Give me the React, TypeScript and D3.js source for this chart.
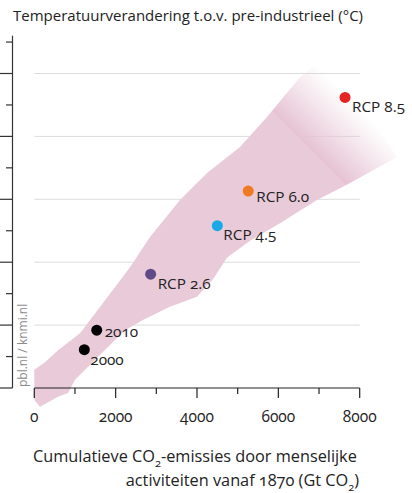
import React from "react";
import * as d3 from "d3";

const pointLabels = ["2000", "2010", "RCP 2.6", "RCP 4.5", "RCP 6.0", "RCP 8.5"];
const emissions = [1230, 1535, 2860, 4500, 5260, 7640];
const temps = [0.61, 0.92, 1.81, 2.58, 3.13, 4.62];
const pointColors = ["#000000", "#000000", "#5e4a86", "#19a9e9", "#f07a21", "#e52421"];

const bandUpperX = [0, 263, 583, 1124, 1689, 2353, 2844, 3582, 4246, 5057, 5721, 6532, 7270];
const bandUpperY = [0.29, 0.41, 0.6, 0.87, 1.35, 1.92, 2.4, 2.99, 3.42, 3.83, 4.31, 4.94, 5.34];
const bandLowerX = [0, 140, 583, 829, 1001, 1419, 1812, 2231, 2672, 3336, 4000, 4393, 4737, 5303, 6040, 6950, 7589, 8917];
const bandLowerY = [-0.19, -0.3, -0.14, -0.08, 0.13, 0.4, 0.65, 0.92, 1.08, 1.29, 1.45, 1.73, 2.07, 2.34, 2.62, 2.99, 3.2, 3.67];

const xTicks = [0, 1000, 2000, 3000, 4000, 5000, 6000, 7000, 8000];
const xTickLabels = ["0", "", "2000", "", "4000", "", "6000", "", "8000"];
const yMajorTicks = [0, 1, 2, 3, 4, 5];
const yMinorTicks = [0.5, 1.5, 2.5, 3.5, 4.5, 5.5];

const titleText = "Temperatuurverandering t.o.v. pre-industrieel (°C)";
const watermark = "pbl.nl / knmi.nl";

// label offsets (px) relative to dot
const labelDx = [6, 8, 7, 6, 8, 7];
const labelDy = [15, 7, 15, 14, 11, 15];

const FONT = "'Open Sans', Lato, sans-serif";
const NUM = { fontFeatureSettings: "'onum' 1", fontVariantNumeric: "oldstyle-nums" } as React.CSSProperties;

export default function App() {
  const x = d3.scaleLinear().domain([0, 8000]).range([34.3, 359.7]);
  const y = d3.scaleLinear().domain([0, 5]).range([388, 73.5]);
  const yAxisX = 12.5;

  const upper = bandUpperX.map((v, i) => [v, bandUpperY[i]] as [number, number]);
  const lower = bandLowerX.map((v, i) => [v, bandLowerY[i]] as [number, number]);
  const poly = upper.concat(lower.slice().reverse());
  const bandPath = d3
    .line<[number, number]>()
    .x((d) => x(d[0]))
    .y((d) => y(d[1]))
    .curve(d3.curveLinearClosed)(poly) as string;

  return (
    <svg
      width={412}
      height={493}
      style={{ position: "absolute", left: 0, top: 0, fontFamily: FONT }}
    >
      <defs>
        <linearGradient id="fade" gradientUnits="userSpaceOnUse" x1={273} y1={113} x2={320} y2={66}>
          <stop offset="0" stopColor="#e9cad8" stopOpacity={1} />
          <stop offset="0.02" stopColor="#e6c2d3" stopOpacity={1} />
          <stop offset="0.97" stopColor="#e9c9d8" stopOpacity={0} />
        </linearGradient>
      </defs>
      <rect width={412} height={493} fill="#ffffff" />
      <text x={13} y={21} fontSize={15} fill="#222">
        {titleText}
      </text>

      {/* gridlines */}
      {yMajorTicks
        .filter((t) => t > 0)
        .map((t) => (
          <line key={"g" + t} x1={x(0)} x2={x(8000)} y1={y(t)} y2={y(t)} stroke="#dcdcdc" strokeWidth={1} />
        ))}

      {/* band */}
      <path d={bandPath} fill="url(#fade)" />

      {/* y axis */}
      <line x1={yAxisX} x2={yAxisX} y1={y(5.6)} y2={y(0)} stroke="#333" strokeWidth={1.2} />
      {yMajorTicks.map((t) => (
        <line key={"ym" + t} x1={0} x2={yAxisX} y1={y(t)} y2={y(t)} stroke="#333" strokeWidth={1.2} />
      ))}
      {yMinorTicks.map((t) => (
        <line key={"yn" + t} x1={6} x2={yAxisX} y1={y(t)} y2={y(t)} stroke="#333" strokeWidth={1.2} />
      ))}

      {/* x axis */}
      <line x1={x(0)} x2={x(8000)} y1={y(0)} y2={y(0)} stroke="#222" strokeWidth={1.2} />
      {xTicks.map((t, i) => (
        <g key={"xt" + t}>
          <line x1={x(t)} x2={x(t)} y1={y(0)} y2={y(0) + (i % 2 === 0 ? 10 : 6)} stroke="#222" strokeWidth={1.2} />
          {xTickLabels[i] && (
            <text x={x(t)} y={422} textAnchor="middle" fontSize={15.5} fill="#222" style={NUM}>
              {xTickLabels[i]}
            </text>
          )}
        </g>
      ))}

      {/* watermark */}
      <text transform={`translate(27,387) rotate(-90)`} fontSize={12} fill="#8c8c8c">
        {watermark}
      </text>

      {/* points */}
      {pointLabels.map((lab, i) => (
        <g key={lab}>
          <circle cx={x(emissions[i])} cy={y(temps[i])} r={5.5} fill={pointColors[i]} />
          <text
            x={x(emissions[i]) + labelDx[i]}
            y={y(temps[i]) + labelDy[i]}
            fontSize={15.3}
            fill="#222"
            style={NUM}
          >
            {lab}
          </text>
        </g>
      ))}

      {/* x title */}
      <text x={33} y={462} fontSize={16.3} fill="#222" style={NUM}>
        Cumulatieve CO
        <tspan fontSize={11} dy={5}>2</tspan>
        <tspan dy={-5}>-emissies door menselijke</tspan>
      </text>
      <text x={359} y={486} textAnchor="end" fontSize={16.3} fill="#222" style={NUM}>
        activiteiten vanaf 1870 (Gt CO
        <tspan fontSize={11} dy={5}>2</tspan>
        <tspan dy={-5}>)</tspan>
      </text>
    </svg>
  );
}
